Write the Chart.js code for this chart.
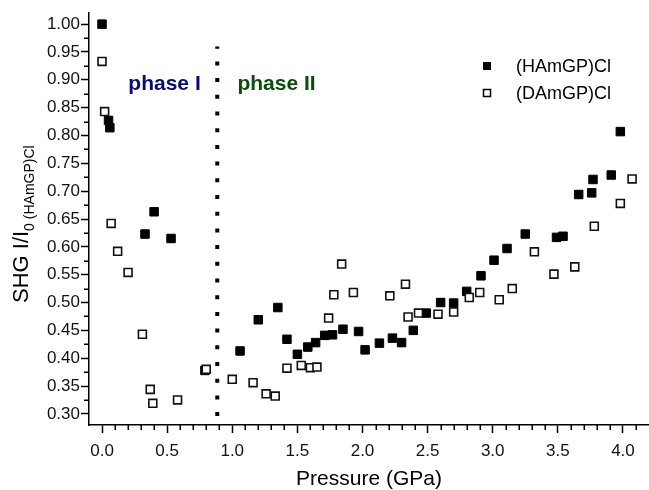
<!DOCTYPE html>
<html>
<head>
<meta charset="utf-8">
<script src="https://cdn.jsdelivr.net/npm/chart.js@4"></script>
<style>
  body { margin: 0; background: #fff; }
  canvas { display: block; }
</style>
</head>
<body>
<canvas id="shgChart" width="649" height="490"></canvas>
<script>
// (HAmGP)Cl - filled squares
const hamgpPressure = [0.00, 0.05, 0.06, 0.33, 0.40, 0.53, 0.79, 1.06, 1.20, 1.35, 1.42, 1.50, 1.58, 1.64, 1.71, 1.77, 1.85, 1.97, 2.02, 2.13, 2.23, 2.30, 2.39, 2.49, 2.60, 2.70, 2.80, 2.91, 3.01, 3.11, 3.25, 3.49, 3.54, 3.66, 3.76, 3.77, 3.91, 3.98];
const hamgpShg = [1.000, 0.827, 0.814, 0.623, 0.663, 0.615, 0.378, 0.413, 0.469, 0.491, 0.434, 0.407, 0.420, 0.428, 0.441, 0.442, 0.452, 0.448, 0.415, 0.427, 0.436, 0.428, 0.450, 0.481, 0.500, 0.499, 0.520, 0.548, 0.576, 0.597, 0.623, 0.617, 0.619, 0.694, 0.697, 0.721, 0.729, 0.807];

// (DAmGP)Cl - open squares
const damgpPressure = [0.00, 0.02, 0.07, 0.12, 0.20, 0.31, 0.37, 0.39, 0.58, 0.80, 1.00, 1.16, 1.26, 1.33, 1.42, 1.53, 1.60, 1.65, 1.74, 1.78, 1.84, 1.93, 2.21, 2.33, 2.35, 2.43, 2.58, 2.70, 2.82, 2.90, 3.05, 3.15, 3.32, 3.47, 3.63, 3.78, 3.98, 4.07];
const damgpShg = [0.933, 0.843, 0.642, 0.592, 0.554, 0.443, 0.344, 0.319, 0.325, 0.380, 0.362, 0.356, 0.336, 0.332, 0.382, 0.387, 0.383, 0.384, 0.472, 0.514, 0.569, 0.518, 0.512, 0.533, 0.474, 0.481, 0.479, 0.483, 0.509, 0.518, 0.505, 0.525, 0.591, 0.551, 0.564, 0.637, 0.678, 0.722];

const xTicks = [0.0, 0.5, 1.0, 1.5, 2.0, 2.5, 3.0, 3.5, 4.0];
const yTicks = [0.30, 0.35, 0.40, 0.45, 0.50, 0.55, 0.60, 0.65, 0.70, 0.75, 0.80, 0.85, 0.90, 0.95, 1.00];

// phase boundary (dotted line) and phase labels
const phaseBoundary = 0.885;
const phaseLines = [0.296, 0.96];
const phaseLabels = ['phase I', 'phase II'];
const phaseLabelX = [0.48, 1.34];
const phaseLabelY = 0.893;

const FONT = 'Arial, "Liberation Sans", sans-serif';

function toPoints(xs, ys) {
    return xs.map((x, i) => ({ x: x, y: ys[i] }));
}

// minor ticks, y title, legend and phase labels
const extrasPlugin = {
    id: 'extras',
    afterDraw(chart) {
        const ctx = chart.ctx;
        const xs = chart.scales.x;
        const ys = chart.scales.y;
        const area = chart.chartArea;
        ctx.save();

        // minor ticks
        ctx.strokeStyle = '#000';
        ctx.lineWidth = 1.5;
        ctx.beginPath();
        for (let i = 1; i <= 41; i++) {
            if (i % 5 === 0) continue;
            const px = Math.round(xs.getPixelForValue(i / 10)) + 0.25;
            ctx.moveTo(px, area.bottom);
            ctx.lineTo(px, area.bottom + 5);
        }
        for (let i = 0; i < yTicks.length - 1; i++) {
            const py = Math.round(ys.getPixelForValue(yTicks[i] + 0.025)) + 0.25;
            ctx.moveTo(area.left, py);
            ctx.lineTo(area.left - 5, py);
        }
        ctx.stroke();

        // y axis title with subscript
        ctx.fillStyle = '#000';
        ctx.translate(28, 303);
        ctx.rotate(-Math.PI / 2);
        ctx.textBaseline = 'alphabetic';
        ctx.textAlign = 'left';
        ctx.font = '22px ' + FONT;
        ctx.fillText('SHG I/I', 0, 0);
        const w = ctx.measureText('SHG I/I').width;
        ctx.font = '14px ' + FONT;
        ctx.fillText('0 (HAmGP)Cl', w, 6);
        ctx.setTransform(1, 0, 0, 1, 0, 0);

        // phase labels
        ctx.font = 'bold 21px ' + FONT;
        ctx.textAlign = 'center';
        ctx.textBaseline = 'middle';
        const phaseColors = ['#0a0a80', '#0b4d0b'];
        phaseLabels.forEach((t, i) => {
            ctx.fillStyle = phaseColors[i];
            ctx.fillText(t, xs.getPixelForValue(phaseLabelX[i]), ys.getPixelForValue(phaseLabelY));
        });

        // legend
        ctx.font = '18px ' + FONT;
        ctx.textAlign = 'left';
        ctx.fillStyle = '#000';
        chart.data.datasets.slice(0, 2).forEach((ds, i) => {
            const cy = 66 + i * 27;
            if (i === 0) {
                ctx.fillRect(483, cy - 4, 8, 8);
            } else {
                ctx.fillStyle = '#fff';
                ctx.fillRect(483.5, cy - 3.5, 7, 7);
                ctx.lineWidth = 1.5;
                ctx.strokeStyle = '#000';
                ctx.strokeRect(483.5, cy - 3.5, 7, 7);
                ctx.fillStyle = '#000';
            }
            ctx.fillText(ds.label, 516, cy + 1);
        });
        ctx.restore();
    }
};

new Chart(document.getElementById('shgChart'), {
    type: 'scatter',
    data: {
        datasets: [{
            label: '(HAmGP)Cl',
            data: toPoints(hamgpPressure, hamgpShg),
            pointStyle: 'rect',
            pointRadius: 6,
            backgroundColor: '#000',
            borderColor: '#000',
            borderWidth: 1,
            order: 2
        }, {
            label: '(DAmGP)Cl',
            data: toPoints(damgpPressure, damgpShg),
            pointStyle: 'rect',
            pointRadius: 5.6,
            backgroundColor: '#fff',
            borderColor: '#111',
            borderWidth: 1.6,
            order: 1
        }, {
            label: 'boundary',
            data: phaseLines.map(v => ({ x: phaseBoundary, y: v })),
            showLine: true,
            pointRadius: 0,
            borderColor: '#000',
            borderWidth: 4,
            borderDash: [4, 12.7],
            borderCapStyle: 'butt',
            order: 3
        }]
    },
    options: {
        responsive: false,
        animation: false,
        layout: { autoPadding: false, padding: { top: 13, right: 0, left: 0, bottom: 0 } },
        plugins: {
            legend: { display: false },
            tooltip: { enabled: false }
        },
        scales: {
            x: {
                type: 'linear',
                min: -0.1,
                max: 4.2,
                afterBuildTicks: axis => { axis.ticks = xTicks.map(v => ({ value: v })); },
                afterFit: axis => {
                    axis.height = 65;
                    axis.paddingLeft = 0;
                    axis.paddingRight = 0;
                },
                border: { display: true, color: '#000', width: 1.5 },
                grid: { drawOnChartArea: false, drawTicks: true, tickLength: 8, tickColor: '#000', tickWidth: 1.5 },
                ticks: {
                    color: '#111',
                    font: { family: FONT, size: 17 },
                    padding: 8,
                    maxRotation: 0,
                    callback: v => v.toFixed(1)
                },
                title: {
                    display: true,
                    text: 'Pressure (GPa)',
                    color: '#000',
                    font: { family: FONT, size: 21, lineHeight: 1 },
                    padding: { top: 0, bottom: 0 }
                }
            },
            y: {
                type: 'linear',
                min: 0.28,
                max: 1.02,
                afterBuildTicks: axis => { axis.ticks = yTicks.map(v => ({ value: v })); },
                afterFit: axis => {
                    axis.width = 89;
                    axis.paddingTop = 0;
                    axis.paddingBottom = 0;
                },
                border: { display: true, color: '#000', width: 1.5 },
                grid: { drawOnChartArea: false, drawTicks: true, tickLength: 8, tickColor: '#000', tickWidth: 1.5 },
                ticks: {
                    color: '#111',
                    font: { family: FONT, size: 17 },
                    padding: 1,
                    callback: v => v.toFixed(2)
                }
            }
        }
    },
    plugins: [extrasPlugin]
});
</script>
</body>
</html>
